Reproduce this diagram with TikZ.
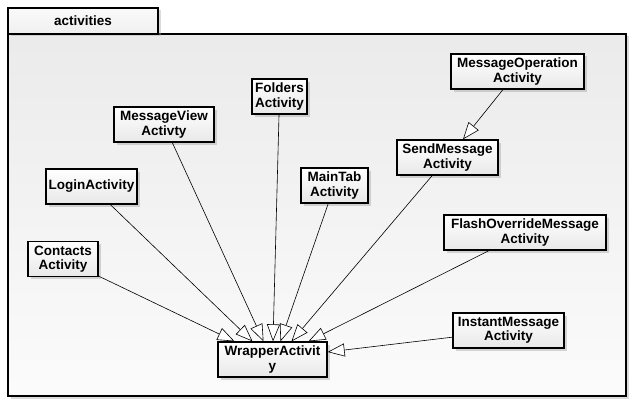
\documentclass[tikz,border=0pt]{standalone}
\usepackage{fontspec}
\setmainfont{Liberation Sans}
\usetikzlibrary{arrows.meta,shadows}
\begin{document}
\begin{tikzpicture}[x=1pt,y=-1pt,
    pkg/.style={draw,line width=1.3pt,top color=gray!4,bottom color=gray!12,
      drop shadow={shadow xshift=2.5pt,shadow yshift=-2.5pt,opacity=.4,fill=gray!70}},
    cls/.style={draw,line width=1.3pt,align=center,inner sep=0pt,minimum height=35pt,
      font=\bfseries\fontsize{13.5}{14.5}\selectfont,top color=white,bottom color=gray!18,
      drop shadow={shadow xshift=2.5pt,shadow yshift=-2.5pt,opacity=.45,fill=gray!70}},
    gen/.style={line width=0.6pt,-{Triangle[fill=white,length=17pt,width=13pt]}}]
    \useasboundingbox (0,0) rectangle (642,412);
    \path[pkg,top color=gray!16,bottom color=gray!3] (8,34) rectangle (626,396);
    \node[pkg,minimum width=150pt,minimum height=26pt,inner sep=0pt,
      font=\bfseries\fontsize{13.5}{14.5}\selectfont] (tab) at (83,21) {activities};
    \node[cls,minimum width=70pt] (contacts) at (63,259) {Contacts\\Activity};
    \node[cls,minimum width=91pt] (login) at (91.5,186.5) {LoginActivity};
    \node[cls,minimum width=100pt] (msgview) at (164,124.5) {MessageView\\Activty};
    \node[cls,minimum width=55pt] (folders) at (279.5,96.5) {Folders\\Activity};
    \node[cls,minimum width=67pt] (maintab) at (334.5,185.5) {MainTab\\Activity};
    \node[cls,minimum width=101pt] (sendmsg) at (447.5,157.5) {SendMessage\\Activity};
    \node[cls,minimum width=133pt] (msgop) at (517.5,71.5) {MessageOperation\\Activity};
    \node[cls,minimum width=162pt] (flash) at (525,232.5) {FlashOverrideMessage\\Activity};
    \node[cls,minimum width=111pt] (instant) at (508.5,330.5) {InstantMessage\\Activity};
    \node[cls,minimum width=109pt] (wrapper) at (272.5,359.5) {WrapperActivit\\y};
    \draw[gen] (msgop) -- ([xshift=15.5pt]sendmsg.north);
    \draw[gen] (contacts) -- ([xshift=-38pt]wrapper.north);
    \draw[gen] (login) -- ([xshift=-20pt]wrapper.north);
    \draw[gen] (msgview) -- ([xshift=-9pt]wrapper.north);
    \draw[gen] (folders) -- ([xshift=0.5pt]wrapper.north);
    \draw[gen] (maintab) -- ([xshift=8pt]wrapper.north);
    \draw[gen] (sendmsg) -- ([xshift=19pt]wrapper.north);
    \draw[gen] (flash) -- ([xshift=36pt]wrapper.north);
    \draw[gen] (instant) -- ([yshift=7.5pt]wrapper.east);
\end{tikzpicture}
\end{document}
